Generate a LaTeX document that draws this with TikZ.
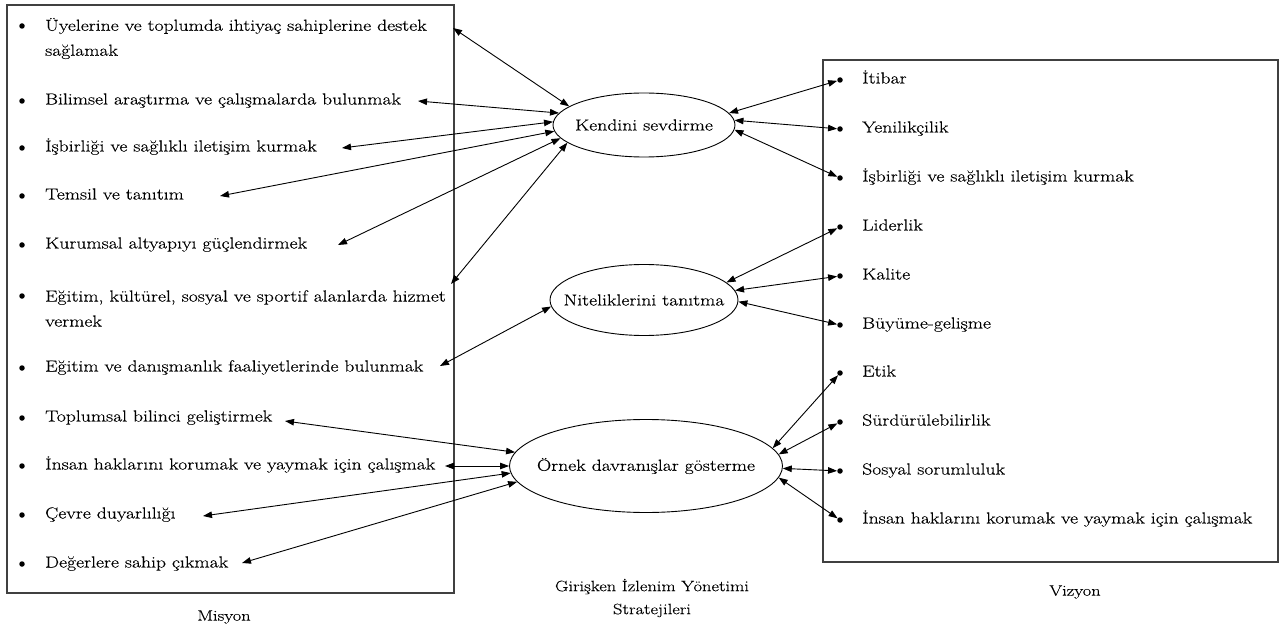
\documentclass[tikz,border=0pt]{standalone}
\usepackage{fontspec}
\setmainfont{Latin Modern Roman}[FakeStretch=1.23, FakeBold=0.35]
\usetikzlibrary{shapes.geometric, arrows.meta}
\tikzset{
  frame/.style={draw=black!75, line width=1.2pt},
  item/.style={anchor=west, inner sep=0pt, font=\fontsize{16}{25}\selectfont, text height=11pt, text depth=4pt},
  itemtwo/.style={anchor=west, inner sep=0pt, font=\fontsize{16}{25}\selectfont, align=left},
  dot/.style={circle, fill=black, inner sep=0pt, minimum size=5.5pt},
  oval/.style={ellipse, draw, line width=0.9pt, inner sep=0pt},
  ovaltext/.style={font=\fontsize{16}{20}\selectfont},
  link/.style={{Triangle[length=9pt,width=6.5pt]}-{Triangle[length=9pt,width=6.5pt]}, line width=0.9pt},
  captext/.style={font=\fontsize{15}{23}\selectfont, align=center}
}
\begin{document}
\begin{tikzpicture}[x=1pt, y=-1pt]
\useasboundingbox (0,0) rectangle (1279,628);
% boxes
\draw[frame] (7,5) rectangle (454,593);
\draw[frame] (823,60) rectangle (1278,562);
% left items
\foreach \i/\y in {1/26,2/101,3/148,4/196,5/245,6/296,7/368,8/418,9/466,10/515,11/564}
  \node[dot] (lb\i) at (22,\y) {};
\node[itemtwo] (m1) at (45,38.5) {Üyelerine ve toplumda ihtiyaç sahiplerine destek\\sağlamak};
\node[item] (m2) at (45,101) {Bilimsel araştırma ve çalışmalarda bulunmak};
\node[item] (m3) at (45,148) {İşbirliği ve sağlıklı iletişim kurmak};
\node[item] (m4) at (45,196) {Temsil ve tanıtım};
\node[item] (m5) at (45,245) {Kurumsal altyapıyı güçlendirmek};
\node[itemtwo] (m6) at (45,308.5) {Eğitim, kültürel, sosyal ve sportif alanlarda hizmet\\vermek};
\node[item] (m7) at (45,368) {Eğitim ve danışmanlık faaliyetlerinde bulunmak};
\node[item] (m8) at (45,418) {Toplumsal bilinci geliştirmek};
\node[item] (m9) at (45,466) {İnsan haklarını korumak ve yaymak için çalışmak};
\node[item] (m10) at (45,515) {Çevre duyarlılığı};
\node[item] (m11) at (45,564) {Değerlere sahip çıkmak};
% right items
\foreach \i/\y in {1/80,2/129,3/178,4/227,5/276,6/325,7/373,8/422,9/471,10/520}
  \node[dot] (rb\i) at (840,\y) {};
\node[item] (v1) at (862,80) {İtibar};
\node[item] (v2) at (862,129) {Yenilikçilik};
\node[item] (v3) at (862,178) {İşbirliği ve sağlıklı iletişim kurmak};
\node[item] (v4) at (862,227) {Liderlik};
\node[item] (v5) at (862,276) {Kalite};
\node[item] (v6) at (862,325) {Büyüme-gelişme};
\node[item] (v7) at (862,373) {Etik};
\node[item] (v8) at (862,422) {Sürdürülebilirlik};
\node[item] (v9) at (862,471) {Sosyal sorumluluk};
\node[item] (v10) at (862,520) {İnsan haklarını korumak ve yaymak için çalışmak};
% ellipses
\node[oval, minimum width=182pt, minimum height=64pt, label={[ovaltext]center:Kendini sevdirme}] (k) at (644,125) {};
\node[oval, minimum width=188pt, minimum height=71pt, label={[ovaltext]center:Niteliklerini tanıtma}] (n) at (644,300) {};
\node[oval, minimum width=273pt, minimum height=93pt, label={[ovaltext]center:Örnek davranışlar gösterme}] (o) at (646,466) {};
% captions
\node[captext] (misyon) at (224,617) {Misyon};
\node[captext] (vizyon) at (1075,592) {Vizyon};
\node[captext] (strat) at (652,598) {Girişken İzlenim Yönetimi\\Stratejileri};
% arrow targets on the left
\coordinate (t1) at (453,28);
\coordinate (t2) at (418,101);
\coordinate (t3) at (342,148);
\coordinate (t4) at (220,196);
\coordinate (t5) at (338,245);
\coordinate (t6) at (451,284);
\coordinate (t7) at (440,366);
\coordinate (t8) at (285,421);
\coordinate (t9) at (445,466);
\coordinate (t10) at (203,516);
\coordinate (t11) at (242,563);
% connectors
\draw[link] (k.166) -- (t1);
\draw[link] (k.172) -- (t2);
\draw[link] (k.178) -- (t3);
\draw[link] (k.184) -- (t4);
\draw[link] (k.189) -- (t5);
\draw[link] (k.193) -- (t6);
\draw[link] (n.184) -- (t7);
\draw[link] (o.174) -- (t8);
\draw[link] (o.180) -- (t9);
\draw[link] (o.183) -- (t10);
\draw[link] (o.187) -- (t11);
\draw[link] (k.8) -- (rb1);
\draw[link] (k.3) -- (rb2);
\draw[link] (k.-3) -- (rb3);
\draw[link] (n.12) -- (rb4);
\draw[link] (n.6) -- (rb5);
\draw[link] (n.-1) -- (rb6);
\draw[link] (o.8) -- (rb7);
\draw[link] (o.5) -- (rb8);
\draw[link] (o.-1) -- (rb9);
\draw[link] (o.-5) -- (rb10);
\end{tikzpicture}
\end{document}
